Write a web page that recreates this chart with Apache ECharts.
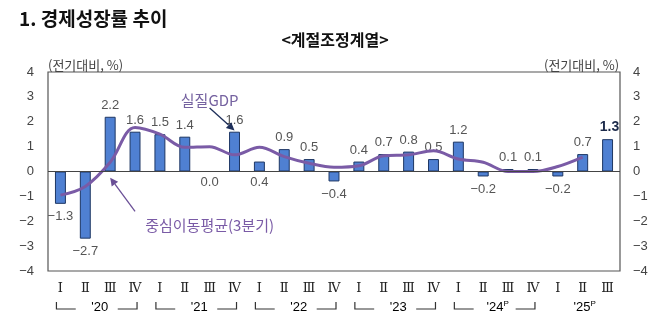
<!DOCTYPE html>
<html><head><meta charset="utf-8">
<script src="https://cdn.jsdelivr.net/npm/echarts@6/dist/echarts.min.js"></script>
<style>html,body{margin:0;padding:0;background:#fff}#c{width:670px;height:322px}</style>
</head><body><div id="c"></div>
<script>
// ---- data ----
var quarters = ['Ⅰ','Ⅱ','Ⅲ','Ⅳ','Ⅰ','Ⅱ','Ⅲ','Ⅳ','Ⅰ','Ⅱ','Ⅲ','Ⅳ','Ⅰ','Ⅱ','Ⅲ','Ⅳ','Ⅰ','Ⅱ','Ⅲ','Ⅳ','Ⅰ','Ⅱ','Ⅲ'];
var gdp = [-1.3,-2.7,2.2,1.6, 1.5,1.4,0.0,1.6, 0.4,0.9,0.5,-0.4, 0.4,0.7,0.8,0.5, 1.2,-0.2,0.1,0.1, -0.2,0.7,1.3];
var movingAvg = [-0.95,-0.6,0.37,1.77, 1.5,0.97,1.0,0.67, 0.97,0.6,0.33,0.17, 0.23,0.63,0.67,0.83, 0.5,0.37,0.0,0.0, 0.2,0.58,null];
var yearGroups = [[0,3,"'20",1],[4,7,"'21",1],[8,11,"'22",1],[12,15,"'23",1],[16,19,"'24",1,'P'],[20,22,"'25",0,'P']];
var belowZeroLabel = [6,8]; // indices whose labels sit under the zero line
var yTicks = [-4,-3,-2,-1,0,1,2,3,4];

var chart = echarts.init(document.getElementById('c'));
var NUM = 'Liberation Sans';
var KR = 'Noto Sans CJK KR';

var barData = gdp.map(function(v,i){
  var item = {value:v};
  if (i === gdp.length-1) {
    item.label = {fontWeight:'bold', color:'#1c2a4a', fontSize:14};
  } else if (v < 0) {
    item.label = {position:'bottom', distance:6};
  } else if (belowZeroLabel.indexOf(i) >= 0) {
    item.label = {position:'bottom', distance:4};
  }
  return item;
});

var yAxisCommon = {
  type:'value', min:-4, max:4, interval:1,
  axisLine:{show:false}, axisTick:{show:false}, splitLine:{show:false},
  axisLabel:{fontFamily:NUM, fontSize:13, color:'#444', margin:14,
    formatter:function(v){return v<0 ? '\u2212'+Math.abs(v) : String(v);}}
};

chart.setOption({
  animation:false,
  title:[
    {text:'1. 경제성장률 추이', left:14, top:4, textStyle:{fontFamily:KR, fontSize:19, fontWeight:'bold', color:'#111'}},
    {text:'<계절조정계열>', left:'center', top:27, textStyle:{fontFamily:KR, fontSize:16, fontWeight:'bold', color:'#111'}},
    {text:'(전기대비, %)', left:43, top:54, textStyle:{fontFamily:KR, fontSize:13, fontWeight:'normal', color:'#444'}},
    {text:'(전기대비, %)', left:539, top:54, textStyle:{fontFamily:KR, fontSize:13, fontWeight:'normal', color:'#444'}}
  ],
  grid:{left:48, right:50, top:72, bottom:51, show:true, borderColor:'#555', borderWidth:1.2, backgroundColor:'transparent'},
  xAxis:{type:'category', data:quarters, axisLine:{show:false}, axisTick:{show:false},
    axisLabel:{fontFamily:'DejaVu Serif', fontSize:13, color:'#222', margin:11}},
  yAxis:[
    Object.assign({position:'left'}, yAxisCommon),
    Object.assign({position:'right'}, yAxisCommon, {axisLabel:Object.assign({}, yAxisCommon.axisLabel, {margin:13})})
  ],
  series:[
    {type:'bar', data:barData, barWidth:'44%',
      itemStyle:{color:'#4f80d2', borderColor:'#1e3764', borderWidth:1},
      label:{show:true, position:'top', distance:5, fontFamily:NUM, fontSize:13, color:'#555',
        formatter:function(p){var v=p.value; return (v<0?'\u2212':'')+Math.abs(v).toFixed(1);}},
      labelLayout:function(p){ return p.dataIndex===gdp.length-1 ? {dx:2} : {}; },
      markLine:{silent:true, symbol:'none', label:{show:false},
        lineStyle:{color:'#444', width:1.2, type:'solid'}, data:[{yAxis:0}]},
      z:2
    },
    {type:'line', data:movingAvg, smooth:0.35, symbol:'none', connectNulls:false,
      lineStyle:{color:'#7a5ba6', width:3}, z:3},
    {type:'custom', clip:false, silent:true, z:4,
      data:yearGroups.map(function(g){return [g[0], g[1], -4];}),
      encode:{x:[0,1], y:2},
      renderItem:function(params, api){
        var g = yearGroups[params.dataIndex];
        var x1 = api.coord([g[0], -4])[0];
        var x2 = api.coord([g[1], -4])[0];
        var yb = api.coord([0, -4])[1];
        var yLine = yb + 38, yTop = yLine - 7;
        var cx = (x1 + x2) / 2;
        var children = [];
        var rich = {b:{fontFamily:NUM, fontSize:13, color:'#333'}, s:{fontFamily:NUM, fontSize:8, color:'#333', verticalAlign:'top', padding:[0,0,6,0]}};
        var txt = '{b|' + g[2] + '}' + (g[4] ? '{s|' + g[4] + '}' : '');
        children.push({type:'text', style:{text:txt, x:cx+2, y:yLine-2, align:'center', verticalAlign:'middle', rich:rich}});
        if (g[3]) {
          var L = x1 - 4, R = x2 + 2;
          var st = {stroke:'#333', lineWidth:1.2, fill:null};
          children.push({type:'polyline', shape:{points:[[L,yTop],[L,yLine],[cx-22,yLine]]}, style:st});
          children.push({type:'polyline', shape:{points:[[cx+20,yLine],[R,yLine],[R,yTop]]}, style:st});
        }
        return {type:'group', children:children};
      }
    }
  ]
});

// annotations anchored in data coordinates
function px(idx, val){ return chart.convertToPixel({xAxisIndex:0, yAxisIndex:0}, [idx, val]); }
function arrow(from, to, color){
  var a = px(from[0], from[1]), b = px(to[0], to[1]);
  var ang = Math.atan2(b[1]-a[1], b[0]-a[0]);
  var h = 8, w = 4;
  var bx = b[0] - h*Math.cos(ang), by = b[1] - h*Math.sin(ang);
  var p1 = [bx + w*Math.sin(ang), by - w*Math.cos(ang)];
  var p2 = [bx - w*Math.sin(ang), by + w*Math.cos(ang)];
  return [
    {type:'line', shape:{x1:a[0], y1:a[1], x2:bx, y2:by}, style:{stroke:color, lineWidth:1.3}, z:10},
    {type:'polygon', shape:{points:[b, p1, p2]}, style:{fill:color}, z:10}
  ];
}
var t1 = px(6.1, 2.88), t2 = px(5.55, -2.15);
var g = [];
g.push({type:'text', x:t1[0], y:t1[1], style:{text:'실질GDP', font:'15px "Noto Sans CJK KR"', fill:'#7562a0', align:'center', verticalAlign:'middle'}, z:10});
g = g.concat(arrow([5.85, 2.55], [6.85, 1.65], '#1e2f5a'));
g.push({type:'text', x:t2[0], y:t2[1], style:{text:'중심이동평균(3분기)', font:'15px "Noto Sans CJK KR"', fill:'#7a5ba6', align:'center', verticalAlign:'middle'}, z:10});
g = g.concat(arrow([2.85, -1.6], [1.7, -0.25], '#6a4f96'));
chart.setOption({graphic:g});
</script>
</body></html>
